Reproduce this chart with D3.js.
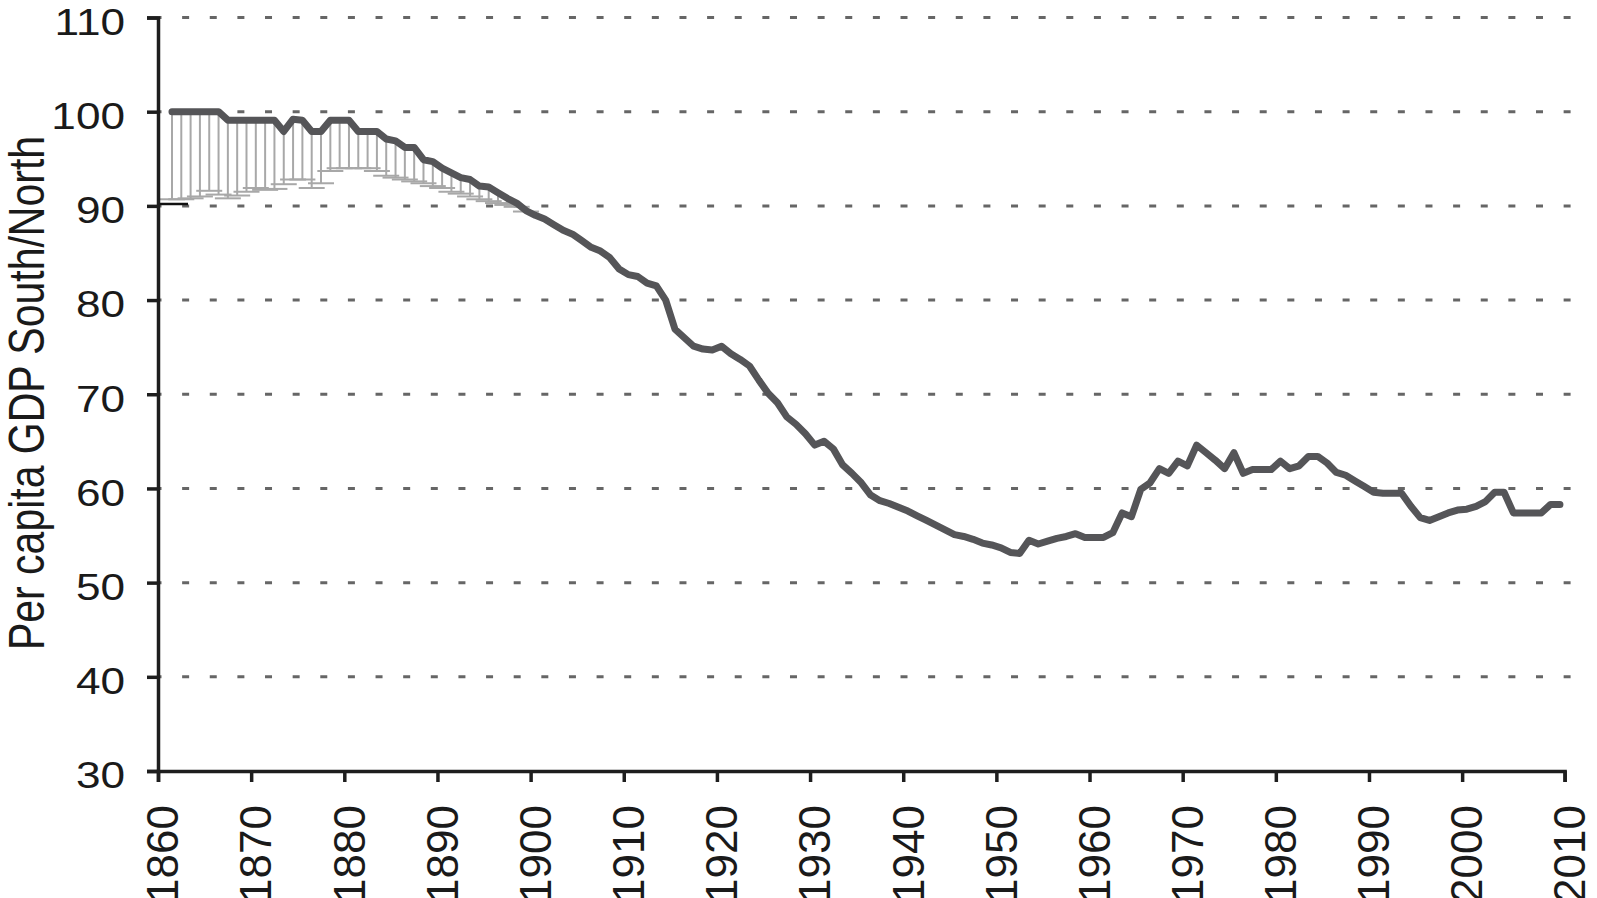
<!DOCTYPE html>
<html>
<head>
<meta charset="utf-8">
<script src="https://cdn.jsdelivr.net/npm/d3@7"></script>
<style>
  body { margin: 0; background: #fff; }
  text { font-family: "Liberation Sans", Arial, sans-serif; fill: #1a1a1a; }
</style>
</head>
<body>
<script>
// per capita GDP of the South as % of the North, one value per year from 1861
var firstYear = 1861;
var gdpRatio = [
  100, 100, 100, 100, 100, 100, 99.1, 99.1, 99.1,                      // 1861-69
  99.1, 99.1, 99.1, 97.9, 99.2, 99.1, 97.9, 97.9, 99.1, 99.1,          // 1870s
  99.1, 97.9, 97.9, 97.9, 97.1, 96.9, 96.2, 96.2, 94.9, 94.7,          // 1880s
  94.0, 93.5, 93.0, 92.8, 92.1, 92.0, 91.4, 90.8, 90.3, 89.5,          // 1890s
  89.0, 88.6, 88.0, 87.4, 87.0, 86.3, 85.6, 85.2, 84.5, 83.3,          // 1900s
  82.7, 82.5, 81.8, 81.5, 80.0, 76.9, 76.0, 75.1, 74.8, 74.7,          // 1910s
  75.1, 74.3, 73.7, 73.0, 71.5, 70.1, 69.1, 67.6, 66.8, 65.8,          // 1920s
  64.6, 65.0, 64.2, 62.5, 61.6, 60.6, 59.3, 58.7, 58.4, 58.0,          // 1930s
  57.6, 57.1, 56.6, 56.1, 55.6, 55.1, 54.9, 54.6, 54.2, 54.0,          // 1940s
  53.7, 53.2, 53.1, 54.5, 54.1, 54.4, 54.7, 54.9, 55.2, 54.8,          // 1950s
  54.8, 54.8, 55.3, 57.4, 57.0, 59.9, 60.6, 62.1, 61.6, 62.9,          // 1960s
  62.4, 64.6, 63.8, 63.0, 62.1, 63.8, 61.6, 62.0, 62.0, 62.0,          // 1970s
  62.9, 62.1, 62.4, 63.4, 63.4, 62.7, 61.7, 61.4, 60.8, 60.2,          // 1980s
  59.6, 59.5, 59.5, 59.5, 58.1, 56.9, 56.6, 57.0, 57.4, 57.7,          // 1990s
  57.8, 58.1, 58.6, 59.6, 59.6, 57.4, 57.4, 57.4, 57.4, 58.3,          // 2000s
  58.3                                                                 // 2010
];

// lower bound of the early estimates, 1861-1899
var lowerBound = [
  90.7, 90.7, 90.8, 91.0, 91.6, 91.2, 90.8, 91.1, 91.5,                // 1861-69
  91.9, 91.7, 91.8, 92.3, 92.8, 92.8, 91.9, 92.4, 93.7, 94.0,          // 1870s
  94.0, 94.0, 94.0, 93.7, 93.2, 93.0, 92.8, 92.6, 92.4, 92.1,          // 1880s
  91.9, 91.5, 91.3, 91.0, 90.7, 90.5, 90.3, 90.1, 89.9, 89.4           // 1890s
];
var firstLowAlt = 90.2;   // black mark on the first year

var yTicks = [30, 40, 50, 60, 70, 80, 90, 100, 110];
var xTickYears = [1860, 1870, 1880, 1890, 1900, 1910, 1920, 1930, 1940, 1950, 1960, 1970, 1980, 1990, 2000, 2011];
var yTitle = "Per capita GDP South/North";

var data = gdpRatio.map(function(v, i) { return {year: firstYear + i, value: v}; });
var bars = lowerBound.map(function(v, i) { return {year: firstYear + i, value: gdpRatio[i], low: v}; });

var width = 1597, height = 898;
var stretch = 1.21;

// category style axis: each year fills one slot, points sit in the middle
var x = d3.scaleLinear().domain([1860, 2011]).range([158, 1564.6]);
var y = d3.scaleLinear().domain([30, 110]).range([771, 17.5]);

var svg = d3.select("body").append("svg")
    .attr("width", width)
    .attr("height", height);

// dashed grid
svg.append("g")
    .selectAll("line")
    .data(yTicks.slice(1))
  .enter().append("line")
    .attr("x1", x.range()[0])
    .attr("x2", x.range()[1] + 6)
    .attr("y1", function(d) { return y(d); })
    .attr("y2", function(d) { return y(d); })
    .style("stroke", "#666")
    .style("stroke-width", 3)
    .style("stroke-dasharray", "7 20.63")
    .style("stroke-dashoffset", 3.5);

// error bars
var eb = svg.append("g").attr("class", "errbars");
eb.selectAll(".vbar")
    .data(bars)
  .enter().append("line")
    .attr("x1", function(d) { return x(d.year + 0.5); })
    .attr("x2", function(d) { return x(d.year + 0.5); })
    .attr("y1", function(d) { return y(d.value); })
    .attr("y2", function(d) { return y(d.low); })
    .style("stroke", "#a8a8a8")
    .style("stroke-width", 2);
eb.selectAll(".cap")
    .data(bars)
  .enter().append("line")
    .attr("x1", function(d) { return x(d.year + 0.5) - 13; })
    .attr("x2", function(d) { return x(d.year + 0.5) + 13; })
    .attr("y1", function(d) { return y(d.low); })
    .attr("y2", function(d) { return y(d.low); })
    .style("stroke", "#a8a8a8")
    .style("stroke-width", 2);

svg.append("line")
    .attr("x1", x(firstYear + 0.5) - 12)
    .attr("x2", x(firstYear + 0.5) + 16)
    .attr("y1", y(firstLowAlt))
    .attr("y2", y(firstLowAlt))
    .style("stroke", "#111")
    .style("stroke-width", 2.5);

// main line
var line = d3.line()
    .x(function(d) { return x(d.year + 0.5); })
    .y(function(d) { return y(d.value); });

svg.append("path")
    .datum(data)
    .attr("d", line)
    .style("fill", "none")
    .style("stroke", "#555558")
    .style("stroke-width", 7)
    .style("stroke-linejoin", "round")
    .style("stroke-linecap", "round");

// axes
var xAxis = d3.axisBottom(x)
    .tickValues(xTickYears)
    .tickSizeOuter(0)
    .tickSize(11)
    .tickFormat(function(d) { return d === 2011 ? "2010" : String(d); });

var yAxis = d3.axisLeft(y)
    .tickValues(yTicks)
    .tickSizeOuter(0)
    .tickSize(11);

var gx = svg.append("g")
    .attr("transform", "translate(0," + y(30) + ")")
    .call(xAxis);

var gy = svg.append("g")
    .attr("transform", "translate(" + x(1860) + ",0)")
    .call(yAxis);

[gx, gy].forEach(function(g) {
  g.select(".domain").style("stroke", "#1e1e1e").style("stroke-width", 3.5);
  g.selectAll(".tick line").style("stroke", "#1e1e1e").style("stroke-width", 3.5);
});

gy.selectAll(".tick text")
    .attr("x", null)
    .attr("dy", "0.46em")
    .attr("transform", "translate(-33,0) scale(" + stretch + ",1)")
    .style("font-size", "36.5px")
    .style("fill", "#1a1a1a")
    .style("text-anchor", "end");

gx.selectAll(".tick text")
    .attr("transform", "translate(0,34) rotate(-90)")
    .attr("y", 0)
    .attr("dy", "0.45em")
    .style("font-size", "44px")
    .style("fill", "#1a1a1a")
    .style("text-anchor", "end");

svg.append("text")
    .attr("transform", "translate(43.5,393) scale(" + stretch + ",1) rotate(-90)")
    .style("text-anchor", "middle")
    .style("font-size", "41px")
    .text(yTitle);
</script>
</body>
</html>
